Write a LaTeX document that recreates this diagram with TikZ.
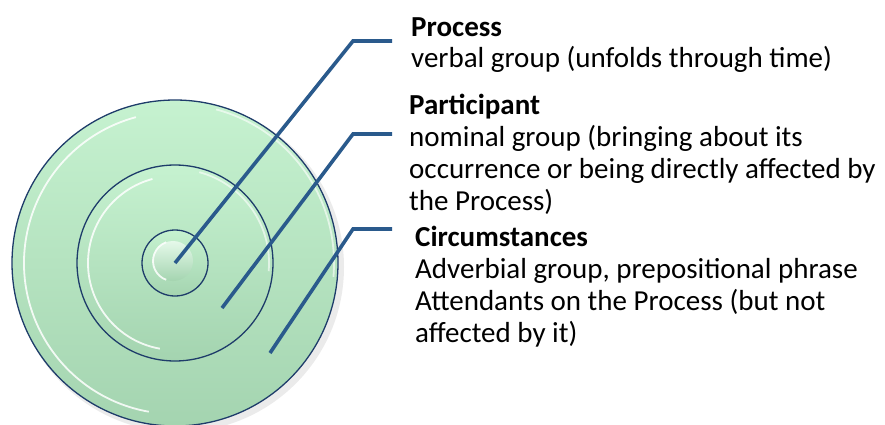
\documentclass[tikz,border=0pt]{standalone}
\usepackage{fontspec}
\setmainfont{Carlito}
\usetikzlibrary{positioning}

\definecolor{ringtop}{HTML}{C6F2D0}
\definecolor{ringbot}{HTML}{A4D4B0}
\definecolor{ringedge}{HTML}{1E3C6A}
\definecolor{leadblue}{HTML}{2A5A8C}

\tikzset{
  ring/.style={circle, inner sep=0pt, draw=ringedge, line width=1.3pt,
    top color=ringtop, bottom color=ringbot},
  glint/.style={white, opacity=0.85, line width=1.8pt},
  leader/.style={leadblue, line width=3.6pt},
  desc/.style={anchor=base west, align=left, inner sep=0pt,
    font=\fontsize{29}{31.7}\selectfont}
}

\begin{document}
\begin{tikzpicture}[x=1pt,y=-1pt]
\useasboundingbox (0,0) rectangle (885,425);

% soft shadow under the target
\fill[black, opacity=0.08] (179,267) circle (165);

% target rings, each with a bevel glint
\node[ring, minimum size=326pt] (outer) at (175,263) {};
\draw[glint] (outer.center) ++(100:151) arc[start angle=100, end angle=255, radius=151];
\draw[glint, opacity=0.6] (outer.center) ++(-75:159) arc[start angle=-75, end angle=5, radius=159];
\node[ring, minimum size=196pt] (middle) at (175,263) {};
\draw[glint] (middle.center) ++(100:87) arc[start angle=100, end angle=255, radius=87];
\draw[glint, opacity=0.6] (middle.center) ++(-75:94) arc[start angle=-75, end angle=5, radius=94];
\node[ring, minimum size=66pt] (inner) at (175,263) {};
\node[circle, inner sep=0pt, minimum size=40pt, top color=white!55!ringtop, bottom color=ringbot] (core) at (173,261) {};
\draw[glint] (core.center) ++(110:20) arc[start angle=110, end angle=250, radius=20];

% leader ends
\coordinate (procfoot) at (inner.center);
\coordinate (partfoot) at (222,308);
\coordinate (circfoot) at (270,353);
\coordinate (procbend) at (353,41);
\coordinate (partbend) at (353,134);
\coordinate (circbend) at (353,229);
\coordinate (proctab) at (392,41);
\coordinate (parttab) at (392,134);
\coordinate (circtab) at (392,229);

\draw[leader] (procfoot) -- (procbend) -- (proctab);
\draw[leader] (partfoot) -- (partbend) -- (parttab);
\draw[leader] (circfoot) -- (circbend) -- (circtab);

% labels (anchored on the baseline of their last line)
\node[desc] (proc) at (411,68) {\textbf{Process}\\verbal group (unfolds through time)};
\node[desc] (part) at (409,210) {\textbf{Participant}\\nominal group (bringing about its\\occurrence or being directly affected by\\the Process)};
\node[desc] (circ) at (415,342) {\textbf{Circumstances}\\Adverbial group, prepositional phrase\\Attendants on the Process (but not\\affected by it)};
\end{tikzpicture}
\end{document}
